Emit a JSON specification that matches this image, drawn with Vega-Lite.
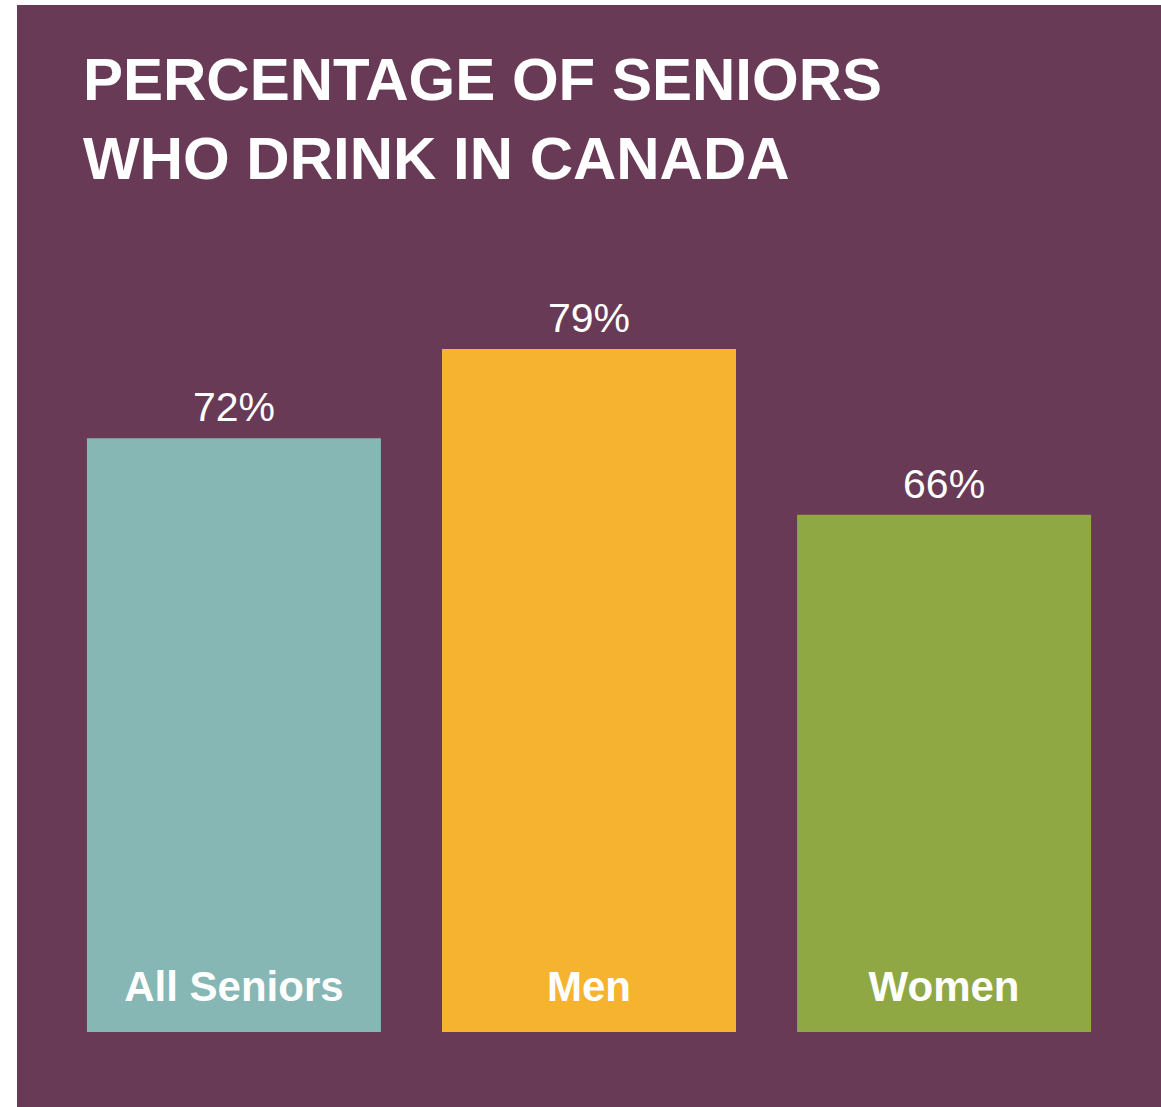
{
  "$schema": "https://vega.github.io/schema/vega-lite/v6.json",
  "width": 1144,
  "height": 1102,
  "autosize": "none",
  "padding": {"left": 17, "top": 5, "right": 0, "bottom": 0},
  "background": "white",
  "config": {"view": {"fill": "#693A55", "stroke": null}},
  "title": {
    "text": ["PERCENTAGE OF SENIORS", "WHO DRINK IN CANADA"],
    "anchor": "start",
    "orient": "top",
    "offset": -187,
    "dx": 66,
    "font": "Liberation Sans",
    "fontSize": 60,
    "fontWeight": "bold",
    "color": "white",
    "lineHeight": 79
  },
  "data": {
    "values": [
      {"group": "All Seniors", "pct": 72, "label": "72%"},
      {"group": "Men", "pct": 79, "label": "79%"},
      {"group": "Women", "pct": 66, "label": "66%"}
    ]
  },
  "encoding": {
    "x": {
      "field": "group",
      "type": "nominal",
      "sort": null,
      "scale": {"paddingInner": 0.172, "paddingOuter": 0.197},
      "axis": null
    }
  },
  "layer": [
    {
      "mark": {"type": "bar"},
      "encoding": {
        "y": {
          "field": "pct",
          "type": "quantitative",
          "scale": {"domain": [25.4, 106], "range": [1027, 0], "zero": false, "nice": false},
          "axis": null
        },
        "y2": {"datum": 25.4},
        "color": {
          "field": "group",
          "type": "nominal",
          "scale": {
            "domain": ["All Seniors", "Men", "Women"],
            "range": ["#86B7B4", "#F6B330", "#8FA843"]
          },
          "legend": null
        }
      }
    },
    {
      "mark": {
        "type": "text",
        "dy": -17,
        "baseline": "alphabetic",
        "fontSize": 41,
        "font": "Liberation Sans",
        "color": "white"
      },
      "encoding": {
        "y": {"field": "pct", "type": "quantitative"},
        "text": {"field": "label", "type": "nominal"}
      }
    },
    {
      "mark": {
        "type": "text",
        "dy": -31,
        "baseline": "alphabetic",
        "fontSize": 42,
        "fontWeight": "bold",
        "font": "Liberation Sans",
        "color": "white"
      },
      "encoding": {
        "y": {"datum": 25.4, "type": "quantitative"},
        "text": {"field": "group", "type": "nominal"}
      }
    }
  ]
}
